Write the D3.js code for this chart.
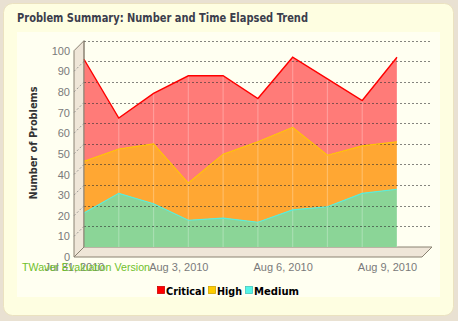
<!DOCTYPE html>
<html><head><meta charset="utf-8">
<script src="https://cdn.jsdelivr.net/npm/d3@7/dist/d3.min.js"></script>
<style>html,body{margin:0;padding:0;background:#e9e1d2;}svg{display:block;}</style>
</head><body>
<script>
const dates = ["2010-07-31","2010-08-01","2010-08-02","2010-08-03","2010-08-04","2010-08-05","2010-08-06","2010-08-07","2010-08-08","2010-08-09"];
const medium   = [16.5, 26, 21, 13, 14, 12, 18, 19.5, 26, 28];
const high     = [25, 21.5, 29, 18, 31, 39, 40, 25, 23, 23];
const critical = [49.5, 15, 24.5, 52, 38, 21, 34, 37, 22, 41];
const yTicks = [0,10,20,30,40,50,60,70,80,90,100];
const xTickDates = ["2010-07-31","2010-08-03","2010-08-06","2010-08-09"];
const seriesNames = ["Critical","High","Medium"];
const legendColors = ["#ff0000","#ffcc00","#55f5e8"];

const W=458,H=321;
const svg=d3.select("body").append("svg").attr("width",W).attr("height",H);
const parse=d3.timeParse("%Y-%m-%d");
const fmt=d3.timeFormat("%b %-d, %Y");
const DX=-10, DY=10;

// card
svg.append("rect").attr("x",3.5).attr("y",3.5).attr("width",450).attr("height",312).attr("rx",9)
  .attr("fill","#fefee1").attr("stroke","#ebe2c0");
svg.append("rect").attr("x",17).attr("y",32).attr("width",423).attr("height",265).attr("fill","#fffff1");

svg.append("text").attr("x",17).attr("y",22).text("Problem Summary: Number and Time Elapsed Trend")
  .attr("font-family","DejaVu Sans").attr("font-weight","bold").attr("font-size",11.5)
  .attr("fill","#3b3d4c").attr("textLength",291).attr("lengthAdjust","spacingAndGlyphs");

const x=d3.scaleTime().domain([parse(dates[0]),parse(dates[dates.length-1])]).range([84,397]);
const y=d3.scaleLinear().domain([0,100]).range([247,40.7]);
const xRight=432;

// data stack
const rows=dates.map((d,i)=>({date:parse(d),Medium:medium[i],High:high[i],Critical:critical[i]}));
const stack=d3.stack().keys(["Medium","High","Critical"])(rows);
const fills={Medium:"#8bd597",High:"#ffa733",Critical:"#ff7b78"};
const strokes={Medium:"#55eedd",High:"#ffc400",Critical:"#ff0000"};

// wall
const wall=svg.append("g");
wall.append("path").attr("d",`M84,${y(100)}L84,${y(0)}L${84+DX},${y(0)+DY}L${84+DX},${y(100)+DY}Z`)
  .attr("fill","#efe6d8").attr("stroke","#8a8272").attr("stroke-width",1);
// floor
wall.append("path").attr("d",`M84,${y(0)}L${xRight},${y(0)}L${xRight+DX},${y(0)+DY}L${84+DX},${y(0)+DY}Z`)
  .attr("fill","#efe6d8").attr("stroke","#8a8272").attr("stroke-width",1);

// areas
const area=d3.area().x(d=>x(d.data.date)).y0(d=>y(d[0])).y1(d=>y(d[1]));
const line=d3.line().x(d=>x(d.data.date)).y(d=>y(d[1]));
svg.append("g").selectAll("path").data(stack).join("path").attr("d",area).attr("fill",d=>fills[d.key]);
// light vertical lines at vertices
svg.append("g").selectAll("line").data(rows.slice(1)).join("line")
  .attr("x1",d=>x(d.date)).attr("x2",d=>x(d.date))
  .attr("y1",y(0)).attr("y2",d=>y(d.Medium+d.High+d.Critical))
  .attr("stroke","#fff").attr("stroke-opacity",0.25).attr("stroke-width",1.2);

// grid
const grid=svg.append("g");
grid.selectAll("line.g").data(yTicks.filter(t=>t>0)).join("line")
  .attr("x1",84).attr("x2",xRight).attr("y1",d=>Math.round(y(d))+0.5).attr("y2",d=>Math.round(y(d))+0.5)
  .attr("stroke","#333").attr("stroke-opacity",0.6).attr("stroke-dasharray","2,2");
grid.selectAll("line.w").data(yTicks.filter(t=>t>0&&t<100)).join("line")
  .attr("x1",84).attr("x2",84+DX).attr("y1",d=>y(d)).attr("y2",d=>y(d)+DY)
  .attr("stroke","#777").attr("stroke-opacity",0.7).attr("stroke-dasharray","2,2");

svg.append("g").selectAll("path").data(stack).join("path").attr("d",line).attr("fill","none")
  .attr("stroke",d=>strokes[d.key]).attr("stroke-width",d=>d.key==="Critical"?1.4:1.1);
// redraw wall edge
svg.append("line").attr("x1",84).attr("x2",84).attr("y1",y(100)).attr("y2",y(0)).attr("stroke","#8a8272");

// axes (front plane)
const yF=y.copy().range([y.range()[0]+DY,y.range()[1]+DY]);
const yAxis=d3.axisLeft(yF).tickValues(yTicks).tickSize(0).tickPadding(4);
const ga=svg.append("g").attr("transform",`translate(${84+DX},0)`).call(yAxis);
ga.select(".domain").remove();
ga.selectAll("text").attr("font-family","Liberation Sans").attr("font-size",11).attr("fill","#7a7a7a");

const xF=x.copy().range([x.range()[0]+DX,x.range()[1]+DX]);
const xAxis=d3.axisBottom(xF).tickValues(xTickDates.map(parse)).tickFormat(fmt).tickSize(0).tickPadding(6);
const gx=svg.append("g").attr("transform",`translate(0,${y(0)+DY})`).call(xAxis);
gx.select(".domain").remove();
gx.selectAll("text").attr("font-family","Liberation Sans").attr("font-size",11).attr("fill","#7a7a7a");

// y title
svg.append("text").attr("transform","translate(37,143) rotate(-90)").attr("text-anchor","middle")
  .text("Number of Problems").attr("font-family","DejaVu Sans").attr("font-weight","bold")
  .attr("font-size",11).attr("fill","#333").attr("textLength",113).attr("lengthAdjust","spacingAndGlyphs");

// watermark
svg.append("text").attr("x",22).attr("y",271).text("TWaver Evaluation Version")
  .attr("font-family","Liberation Sans").attr("font-size",11.5).attr("fill","#6fc02c")
  .attr("textLength",128).attr("lengthAdjust","spacingAndGlyphs");

// legend
const lg=svg.append("g");
const legX=[157,208,245];
const legW=[39,25,45];
seriesNames.forEach((n,i)=>{
  lg.append("rect").attr("x",legX[i]+0.5).attr("y",286.5).attr("width",7).attr("height",7)
    .attr("fill",legendColors[i]).attr("stroke",d3.color(legendColors[i]).darker(0.6)).attr("stroke-width",0.8);
  lg.append("text").attr("x",legX[i]+9).attr("y",294.5).text(n)
    .attr("font-family","DejaVu Sans").attr("font-weight","bold").attr("font-size",11).attr("fill","#000")
    .attr("textLength",legW[i]).attr("lengthAdjust","spacingAndGlyphs");
});
</script>
</body></html>
